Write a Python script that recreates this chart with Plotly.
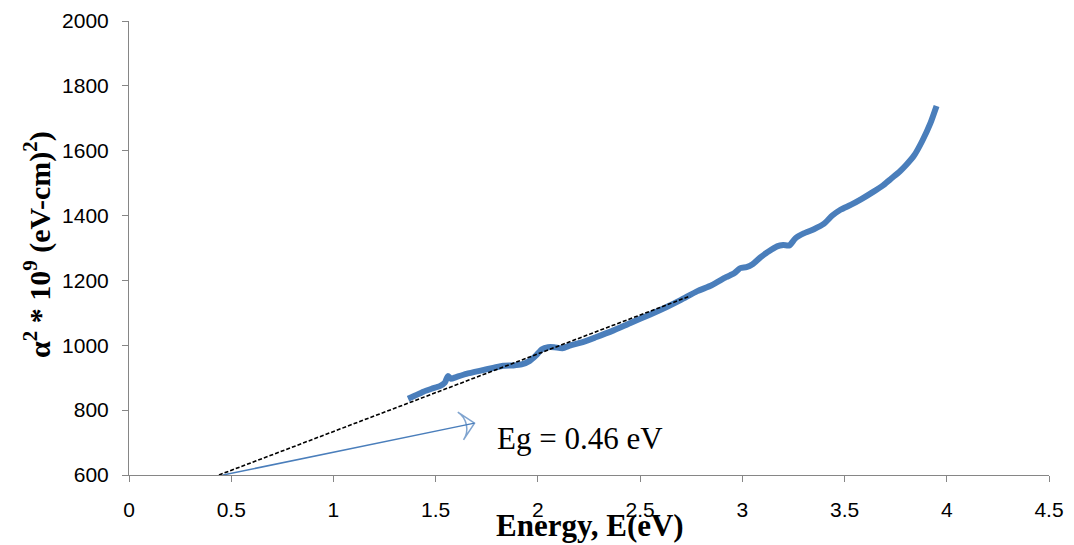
import plotly.graph_objects as go

# Measured curve: photon energy (eV) vs alpha^2 * 1e9 ((eV-cm)^2)
energy = [1.365, 1.40, 1.44, 1.48, 1.52, 1.545, 1.56, 1.575, 1.60, 1.65, 1.72, 1.78,
          1.83, 1.88, 1.92, 1.96, 1.99, 2.02, 2.05, 2.08, 2.12, 2.16, 2.21, 2.28,
          2.37, 2.45, 2.55, 2.63, 2.70, 2.78, 2.85, 2.92, 2.96, 2.99, 3.02, 3.05,
          3.09, 3.13, 3.17, 3.20, 3.23, 3.26, 3.30, 3.35, 3.40, 3.44, 3.48, 3.53,
          3.58, 3.64, 3.69, 3.73, 3.77, 3.80, 3.84, 3.88, 3.92, 3.95]
alpha2 = [835, 845, 857, 866, 874, 885, 905, 897, 902, 912, 922, 930,
          937, 938, 941, 952, 968, 988, 994, 994, 991, 1000, 1008, 1024,
          1046, 1068, 1095, 1118, 1140, 1167, 1185, 1210, 1222, 1238, 1241, 1250,
          1272, 1290, 1305, 1309, 1308, 1330, 1345, 1358, 1375, 1400, 1418, 1433,
          1450, 1473, 1494, 1515, 1536, 1555, 1585, 1630, 1685, 1738]

# Linear extrapolation (Tauc fit) endpoints
fit_x = [0.44, 2.745]
fit_y = [600, 1152]

# Arrow pointing to band-gap label
arrow_x = [0.46, 1.69]
arrow_y = [600, 760]
eg_label = "Eg = 0.46 eV"

x_ticks = [0, 0.5, 1, 1.5, 2, 2.5, 3, 3.5, 4, 4.5]
y_ticks = [600, 800, 1000, 1200, 1400, 1600, 1800, 2000]

axis_color = "#868686"
blue = "#4A7EBB"

fig = go.Figure()
fig.add_trace(go.Scatter(x=energy, y=alpha2, mode="lines",
                         line=dict(color=blue, width=6, shape="spline", smoothing=0.6),
                         showlegend=False, hoverinfo="skip"))
fig.add_trace(go.Scatter(x=fit_x, y=fit_y, mode="lines",
                         line=dict(color="black", width=1.6, dash="4px,2px"),
                         showlegend=False, hoverinfo="skip"))
fig.add_trace(go.Scatter(x=arrow_x, y=arrow_y, mode="lines+markers",
                         line=dict(color=blue, width=1.5),
                         marker=dict(symbol="arrow-wide-open", size=[0, 20],
                                     angleref="previous", color=blue,
                                     line=dict(color=blue, width=1.5)),
                         showlegend=False, hoverinfo="skip"))

fig.add_annotation(x=1.79, y=712, xref="x", yref="y", text=eg_label, showarrow=False,
                   xanchor="left", yanchor="middle",
                   font=dict(family="Liberation Serif", size=31, color="black"))

fig.add_annotation(x=0.501, y=-0.112, xref="paper", yref="paper",
                   text="<b>Energy, E(eV)</b>", showarrow=False,
                   xanchor="center", yanchor="middle",
                   font=dict(family="Liberation Serif", size=31, color="black"))
fig.add_annotation(x=-0.1, y=0.5066, xref="paper", yref="paper",
                   text="<b>α<sup>2</sup> * 10<sup>9</sup> (eV-cm)<sup>2</sup>)</b>",
                   showarrow=False, textangle=-90,
                   xanchor="center", yanchor="middle",
                   font=dict(family="Liberation Serif", size=30, color="black"))

fig.update_xaxes(range=[0, 4.5], tickvals=x_ticks, ticktext=[f"{v:g}" for v in x_ticks],
                 showgrid=False, zeroline=False, showline=True, linecolor=axis_color,
                 linewidth=1, ticks="outside", ticklen=6, tickcolor=axis_color,
                 automargin=False, ticklabelstandoff=10,
                 tickfont=dict(family="Liberation Sans", size=21, color="black"))
fig.update_yaxes(range=[600, 2000], tickvals=y_ticks,
                 showgrid=False, zeroline=False, showline=True, linecolor=axis_color,
                 linewidth=1, ticks="outside", ticklen=6, tickcolor=axis_color,
                 automargin=False, ticklabelstandoff=9,
                 tickfont=dict(family="Liberation Sans", size=21, color="black"))

# page body has an 8px margin, so the figure is shifted by 8px; compensate
fig.update_layout(width=1066, height=537, plot_bgcolor="white", paper_bgcolor="white",
                  margin=dict(l=121, r=25, t=13, b=70))
fig.write_html("out.html")
